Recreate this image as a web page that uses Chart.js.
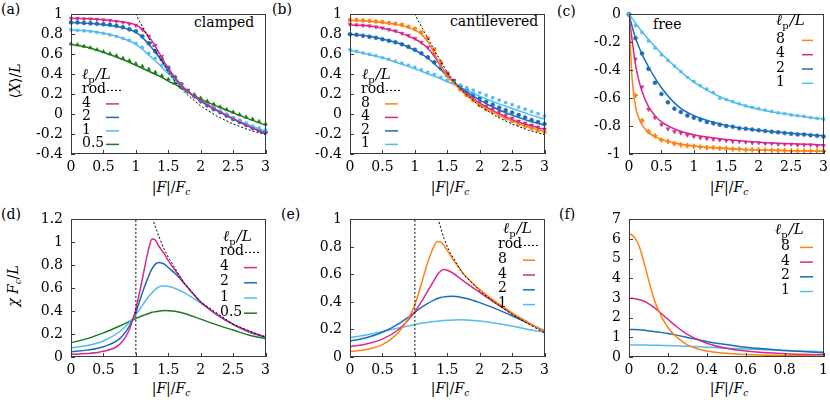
<!DOCTYPE html>
<html>
<head>
<meta charset="utf-8">
<script src="https://cdn.jsdelivr.net/npm/chart.js@4/dist/chart.umd.min.js"></script>
<style>
body { margin: 0; width: 830px; height: 404px; position: relative; background: #fff; overflow: hidden;
       font-family: "DejaVu Serif", "Liberation Serif", serif; }
canvas { position: absolute; }
.t { position: absolute; font-size: 14px; line-height: 1; white-space: nowrap; color: #000; }
.rot { transform: translate(-50%, -50%) rotate(-90deg); }
.ctr { transform: translateX(-50%); }
sub { font-size: 9px; vertical-align: -3px; }
</style>
</head>
<body>
<div class="t" style="left:1px;top:2px">(a)</div>
<div class="t" style="left:272px;top:2px">(b)</div>
<div class="t" style="left:557px;top:4px">(c)</div>
<div class="t" style="left:1px;top:207px">(d)</div>
<div class="t" style="left:281px;top:207px">(e)</div>
<div class="t" style="left:559px;top:207px">(f)</div>
<div class="t" style="left:194px;top:15px">clamped</div>
<div class="t" style="left:450px;top:14px">cantilevered</div>
<div class="t" style="left:653px;top:17px">free</div>
<div class="t rot" style="left:15px;top:81px">⟨<i>X</i>⟩/<i>L</i></div>
<div class="t rot" style="left:14px;top:286px"><i>χ F</i><sub><i>c</i></sub>/<i>L</i></div>
<div class="t ctr" style="left:171px;top:180px">|<i>F</i>|/<i>F</i><sub><i>c</i></sub></div>
<div class="t ctr" style="left:450px;top:180px">|<i>F</i>|/<i>F</i><sub><i>c</i></sub></div>
<div class="t ctr" style="left:729px;top:180px">|<i>F</i>|/<i>F</i><sub><i>c</i></sub></div>
<div class="t ctr" style="left:171px;top:381px">|<i>F</i>|/<i>F</i><sub><i>c</i></sub></div>
<div class="t ctr" style="left:450px;top:381px">|<i>F</i>|/<i>F</i><sub><i>c</i></sub></div>
<div class="t ctr" style="left:729px;top:381px">|<i>F</i>|/<i>F</i><sub><i>c</i></sub></div>
<script>
// couleurs des séries
const MAGENTA = '#d5298c', BLUE = '#1c6cbd', LIGHT = '#52bdec', GREEN = '#1d7a1d', ORANGE = '#ff8210';

// grilles des courbes théoriques
const gridAB = [0, 0.25, 0.5, 0.75, 1, 1.1, 1.2, 1.3, 1.4, 1.5, 1.6, 1.75, 2, 2.25, 2.5, 2.75, 3];
const gridC = [0, 0.025, 0.05, 0.1, 0.15, 0.2, 0.3, 0.4, 0.5, 0.75, 1, 1.5, 2, 2.5, 3];
const gridD = [0, 0.25, 0.5, 0.75, 0.9, 1, 1.1, 1.2, 1.25, 1.3, 1.35, 1.4, 1.45, 1.5, 1.6, 1.75, 2, 2.25, 2.5, 2.75, 3];
const gridE = [0, 0.25, 0.5, 0.75, 0.9, 1, 1.1, 1.2, 1.3, 1.35, 1.4, 1.45, 1.5, 1.6, 1.7, 1.8, 2, 2.25, 2.5, 2.75, 3];
const gridF = [0, 0.025, 0.05, 0.075, 0.1, 0.125, 0.15, 0.2, 0.25, 0.3, 0.4, 0.5, 0.6, 0.8, 1];
// abscisses des points de simulation
const markX = [0, 0.1, 0.2, 0.3, 0.4, 0.5, 0.6, 0.7, 0.8, 0.9, 1, 1.1, 1.2, 1.3, 1.4, 1.5, 1.6, 1.7, 1.8, 1.9,
               2, 2.1, 2.2, 2.3, 2.4, 2.5, 2.6, 2.7, 2.8, 2.9, 3];

// tige rigide (rod)
const rodX_AB = [0, 1, 1.05, 1.1, 1.15, 1.2, 1.25, 1.3, 1.4, 1.5, 1.6, 1.75, 2, 2.25, 2.5, 2.75, 3];
const rodY_AB = [1, 1, 0.94, 0.88, 0.82, 0.76, 0.7, 0.64, 0.53, 0.42, 0.33, 0.22, 0.08, -0.02, -0.1, -0.16, -0.205];
const rodX_D = [0, 1, 1, 1.26, 1.35, 1.42, 1.5, 1.75, 2, 2.5, 3];
const rodY_D = [0, 0, 1.6, 1.2, 1.06, 0.96, 0.87, 0.64, 0.48, 0.285, 0.17];
const rodX_E = [0, 1, 1, 1.36, 1.45, 1.54, 1.75, 2, 2.25, 2.5, 2.75, 3];
const rodY_E = [0, 0, 1.4, 1.0, 0.86, 0.76, 0.6, 0.48, 0.39, 0.31, 0.24, 0.175];

// (a) clamped : courbes
const aLine4 = [0.96, 0.957, 0.947, 0.928, 0.895, 0.85, 0.78, 0.68, 0.565, 0.46, 0.37, 0.26, 0.135, 0.04, -0.045, -0.125, -0.2];
const aLine2 = [0.918, 0.91, 0.898, 0.873, 0.82, 0.77, 0.70, 0.62, 0.535, 0.445, 0.36, 0.255, 0.13, 0.035, -0.05, -0.125, -0.19];
const aLine1 = [0.842, 0.835, 0.81, 0.77, 0.70, 0.65, 0.59, 0.535, 0.47, 0.41, 0.34, 0.25, 0.135, 0.04, -0.045, -0.11, -0.17];
const aLine05 = [0.70, 0.67, 0.62, 0.56, 0.49, 0.46, 0.43, 0.40, 0.37, 0.33, 0.30, 0.24, 0.15, 0.08, 0.012, -0.05, -0.11];
// (a) points
const aMark4 = [0.96, 0.96, 0.955, 0.955, 0.95, 0.945, 0.94, 0.93, 0.92, 0.905, 0.89, 0.85, 0.78, 0.69, 0.58, 0.47,
                0.37, 0.3, 0.24, 0.18, 0.13, 0.09, 0.06, 0.02, -0.01, -0.04, -0.07, -0.1, -0.13, -0.16, -0.19];
const aMark2 = [0.92, 0.92, 0.915, 0.91, 0.905, 0.9, 0.895, 0.885, 0.87, 0.85, 0.83, 0.78, 0.71, 0.63, 0.55, 0.46,
                0.37, 0.3, 0.23, 0.18, 0.13, 0.09, 0.05, 0.02, -0.015, -0.05, -0.08, -0.11, -0.14, -0.16, -0.18];
const aMark1 = [0.845, 0.84, 0.835, 0.83, 0.82, 0.81, 0.795, 0.78, 0.76, 0.74, 0.71, 0.67, 0.61, 0.56, 0.49, 0.42,
                0.35, 0.29, 0.23, 0.18, 0.135, 0.1, 0.065, 0.03, 0.0, -0.035, -0.06, -0.09, -0.12, -0.14, -0.16];
const aMark05 = [0.705, 0.695, 0.68, 0.665, 0.645, 0.625, 0.605, 0.585, 0.56, 0.535, 0.505, 0.48, 0.45, 0.42, 0.385, 0.35,
                 0.31, 0.27, 0.23, 0.195, 0.16, 0.13, 0.1, 0.072, 0.045, 0.02, -0.005, -0.03, -0.05, -0.075, -0.1];

// (b) cantilevered
const bLine8 = [0.94, 0.934, 0.918, 0.895, 0.842, 0.80, 0.725, 0.61, 0.48, 0.38, 0.31, 0.215, 0.095, 0.005, -0.07, -0.13, -0.175];
const bLine4 = [0.895, 0.885, 0.862, 0.82, 0.753, 0.715, 0.66, 0.58, 0.48, 0.395, 0.315, 0.23, 0.11, 0.02, -0.055, -0.11, -0.155];
const bLine2 = [0.80, 0.785, 0.753, 0.71, 0.64, 0.605, 0.56, 0.505, 0.445, 0.38, 0.32, 0.245, 0.14, 0.056, -0.01, -0.066, -0.11];
const bLine1 = [0.64, 0.605, 0.565, 0.51, 0.455, 0.43, 0.405, 0.38, 0.355, 0.325, 0.3, 0.255, 0.18, 0.115, 0.056, 0.0, -0.05];
const bMark8 = [0.945, 0.945, 0.94, 0.935, 0.93, 0.925, 0.915, 0.905, 0.895, 0.875, 0.855, 0.82, 0.76, 0.65, 0.52, 0.41,
                0.32, 0.25, 0.19, 0.14, 0.09, 0.05, 0.02, -0.01, -0.04, -0.07, -0.1, -0.12, -0.14, -0.16, -0.18];
const bMark4 = [0.9, 0.895, 0.89, 0.885, 0.875, 0.865, 0.85, 0.835, 0.81, 0.79, 0.76, 0.72, 0.67, 0.6, 0.5, 0.41,
                0.34, 0.27, 0.21, 0.17, 0.12, 0.08, 0.05, 0.02, -0.01, -0.04, -0.07, -0.09, -0.11, -0.13, -0.15];
const bMark2 = [0.8, 0.795, 0.785, 0.775, 0.765, 0.75, 0.735, 0.72, 0.7, 0.675, 0.645, 0.61, 0.57, 0.52, 0.46, 0.39,
                0.33, 0.28, 0.24, 0.2, 0.16, 0.125, 0.095, 0.065, 0.04, 0.015, -0.01, -0.035, -0.06, -0.08, -0.1];
const bMark1 = [0.645, 0.63, 0.615, 0.6, 0.585, 0.565, 0.55, 0.53, 0.51, 0.49, 0.47, 0.445, 0.42, 0.4, 0.37, 0.34,
                0.32, 0.29, 0.265, 0.24, 0.215, 0.19, 0.165, 0.14, 0.115, 0.095, 0.07, 0.05, 0.025, 0.005, -0.02];

// (c) free
const cLine8 = [0, -0.27, -0.47, -0.66, -0.74, -0.79, -0.845, -0.875, -0.895, -0.925, -0.942, -0.96, -0.97, -0.976, -0.98];
const cLine4 = [0, -0.1, -0.19, -0.36, -0.47, -0.55, -0.66, -0.725, -0.77, -0.83, -0.862, -0.896, -0.915, -0.927, -0.935];
const cLine2 = [0, -0.045, -0.09, -0.17, -0.23, -0.285, -0.375, -0.455, -0.525, -0.655, -0.725, -0.795, -0.83, -0.852, -0.87];
const cLine1 = [0, -0.015, -0.03, -0.062, -0.093, -0.122, -0.178, -0.23, -0.28, -0.39, -0.485, -0.61, -0.68, -0.72, -0.75];
const cMark8 = [0, -0.58, -0.76, -0.84, -0.87, -0.9, -0.91, -0.925, -0.935, -0.94, -0.945, -0.95, -0.955, -0.955, -0.96, -0.96,
                -0.965, -0.965, -0.97, -0.97, -0.97, -0.972, -0.974, -0.975, -0.976, -0.977, -0.978, -0.978, -0.979, -0.98, -0.98];
const cMark4 = [0, -0.32, -0.52, -0.68, -0.74, -0.79, -0.82, -0.84, -0.85, -0.865, -0.875, -0.885, -0.89, -0.895, -0.9, -0.905,
                -0.91, -0.91, -0.915, -0.92, -0.92, -0.925, -0.925, -0.93, -0.93, -0.93, -0.935, -0.935, -0.935, -0.94, -0.94];
const cMark2 = [0, -0.17, -0.28, -0.39, -0.49, -0.57, -0.63, -0.675, -0.7, -0.725, -0.74, -0.755, -0.77, -0.78, -0.79, -0.8,
                -0.805, -0.815, -0.82, -0.825, -0.83, -0.835, -0.84, -0.845, -0.85, -0.855, -0.86, -0.86, -0.865, -0.87, -0.875];
const cMark1 = [0, -0.08, -0.13, -0.19, -0.24, -0.29, -0.33, -0.37, -0.41, -0.45, -0.48, -0.51, -0.535, -0.56, -0.6, -0.61,
                -0.625, -0.64, -0.655, -0.665, -0.675, -0.685, -0.695, -0.705, -0.71, -0.72, -0.725, -0.73, -0.74, -0.745, -0.75];

// (d) susceptibilité, clamped
const dChi4 = [0.023, 0.03, 0.05, 0.11, 0.24, 0.42, 0.68, 0.95, 1.03, 1.02, 0.97, 0.93, 0.89, 0.84, 0.76, 0.64, 0.48, 0.37, 0.285, 0.22, 0.175];
const dChi2 = [0.045, 0.06, 0.09, 0.16, 0.27, 0.39, 0.56, 0.71, 0.77, 0.81, 0.825, 0.82, 0.805, 0.78, 0.73, 0.64, 0.48, 0.37, 0.285, 0.22, 0.175];
const dChi1 = [0.08, 0.1, 0.14, 0.22, 0.3, 0.37, 0.45, 0.53, 0.56, 0.59, 0.61, 0.62, 0.62, 0.615, 0.6, 0.56, 0.47, 0.37, 0.285, 0.215, 0.17];
const dChi05 = [0.125, 0.16, 0.21, 0.27, 0.31, 0.335, 0.36, 0.38, 0.39, 0.395, 0.4, 0.403, 0.405, 0.404, 0.398, 0.38, 0.33, 0.28, 0.235, 0.19, 0.16];

// (e) susceptibilité, cantilevered
const eChi8 = [0.04, 0.055, 0.09, 0.18, 0.28, 0.38, 0.53, 0.69, 0.81, 0.84, 0.835, 0.81, 0.775, 0.7, 0.635, 0.58, 0.49, 0.4, 0.32, 0.25, 0.185];
const eChi4 = [0.075, 0.095, 0.13, 0.2, 0.27, 0.33, 0.4, 0.48, 0.56, 0.6, 0.625, 0.635, 0.63, 0.605, 0.57, 0.535, 0.47, 0.39, 0.315, 0.25, 0.185];
const eChi2 = [0.115, 0.14, 0.18, 0.24, 0.29, 0.325, 0.36, 0.39, 0.415, 0.425, 0.432, 0.437, 0.44, 0.442, 0.435, 0.425, 0.395, 0.35, 0.3, 0.245, 0.19];
const eChi1 = [0.14, 0.16, 0.185, 0.21, 0.225, 0.235, 0.245, 0.252, 0.258, 0.26, 0.263, 0.265, 0.267, 0.269, 0.27, 0.269, 0.262, 0.245, 0.225, 0.2, 0.18];

// (f) susceptibilité, free
const fChi8 = [6.3, 6.12, 5.7, 4.88, 3.95, 3.05, 2.4, 1.5, 0.97, 0.62, 0.3, 0.19, 0.13, 0.08, 0.05];
const fChi4 = [3.0, 2.98, 2.93, 2.85, 2.72, 2.55, 2.35, 1.92, 1.5, 1.15, 0.7, 0.44, 0.3, 0.165, 0.11];
const fChi2 = [1.4, 1.4, 1.39, 1.37, 1.33, 1.3, 1.27, 1.19, 1.1, 0.99, 0.79, 0.63, 0.49, 0.33, 0.22];
const fChi1 = [0.61, 0.61, 0.61, 0.61, 0.6, 0.6, 0.6, 0.58, 0.57, 0.55, 0.5, 0.45, 0.41, 0.33, 0.27];

const SERIF = '"DejaVu Serif", "Liberation Serif", serif';

function pts(xs, ys) {
    return xs.map((x, i) => ({ x: x, y: ys[i] }));
}

// courbe continue
function curve(xs, ys, color, label) {
    return { data: pts(xs, ys), borderColor: color, borderWidth: 1.5, pointRadius: 0,
             cubicInterpolationMode: 'monotone', fill: false, key: label };
}

// tige rigide en pointillés
function rod(xs, ys) {
    return { data: pts(xs, ys), borderColor: '#000', borderWidth: 1, borderDash: [2, 2],
             pointRadius: 0, tension: 0, fill: false, key: 'rod' };
}

// points de simulation
function marks(ys, color, style, rot) {
    let r = 2;
    if (style === 'triangle') r = 2.3;
    if (style === 'rect') r = 1.9;
    if (style === 'cross') r = 2.6;
    return { data: pts(markX, ys), showLine: false, pointStyle: style, pointRotation: rot || 0,
             pointRadius: r, pointBorderWidth: style === 'cross' ? 1.8 : 0.5,
             backgroundColor: color, borderColor: color, clip: 5 };
}

// cadre + graduations vers l'intérieur (style gnuplot)
const framePlugin = {
    id: 'frame',
    afterDatasetsDraw(chart) {
        const { ctx, chartArea: a, scales } = chart;
        ctx.save();
        ctx.strokeStyle = '#3a3a3a';
        ctx.lineWidth = 1;
        ctx.beginPath();
        scales.x.ticks.forEach(t => {
            const px = Math.round(scales.x.getPixelForValue(t.value)) + 0.5;
            ctx.moveTo(px, a.bottom); ctx.lineTo(px, a.bottom - 4);
        });
        scales.y.ticks.forEach(t => {
            const py = Math.round(scales.y.getPixelForValue(t.value)) + 0.5;
            ctx.moveTo(a.left, py); ctx.lineTo(a.left + 4, py);
        });
        ctx.stroke();
        ctx.strokeRect(Math.round(a.left) + 0.5, Math.round(a.top) + 0.5,
                       Math.round(a.right - a.left) - 1, Math.round(a.bottom - a.top) - 1);
        ctx.restore();
    }
};

// légende l_p/L dessinée dans le graphe
const keyPlugin = {
    id: 'lpKey',
    afterDraw(chart, args, o) {
        const { ctx, chartArea: a } = chart;
        const x0 = a.left + o.x, y0 = a.top + o.y;
        ctx.save();
        ctx.fillStyle = '#000';
        ctx.textBaseline = 'middle';
        ctx.textAlign = 'left';
        ctx.font = 'italic 15px ' + SERIF;
        ctx.fillText('ℓ', x0, y0);
        let w = ctx.measureText('ℓ').width;
        ctx.font = '10px ' + SERIF;
        ctx.fillText('p', x0 + w, y0 + 5);
        w += ctx.measureText('p').width + 1;
        ctx.font = 'italic 15px ' + SERIF;
        ctx.fillText('/L', x0 + w, y0);
        let i = 0;
        chart.data.datasets.forEach(ds => {
            if (!ds.key) return;
            const y = a.top + o.first + i * o.dy;
            ctx.font = '14px ' + SERIF;
            ctx.fillText(ds.key, a.left + o.tx, y);
            ctx.beginPath();
            ctx.strokeStyle = ds.borderColor;
            ctx.lineWidth = ds.borderWidth;
            ctx.setLineDash(ds.borderDash || []);
            const ext = ds.borderDash ? 3 : 0;
            ctx.moveTo(a.left + o.s0 - ext, y + 1);
            ctx.lineTo(a.left + o.s1 + ext, y + 1);
            ctx.stroke();
            ctx.setLineDash([]);
            i++;
        });
        ctx.restore();
    }
};

function fmt(v) {
    return Math.abs(v) < 1e-9 ? '0' : String(parseFloat(v.toFixed(2)));
}

function panel(left, top, w, h, xr, yr, sets, key) {
    const padL = 64, padT = 12, padR = 6, padB = 30;
    const cv = document.createElement('canvas');
    cv.width = w + padL + padR;
    cv.height = h + padT + padB;
    cv.style.left = (left - padL) + 'px';
    cv.style.top = (top - padT) + 'px';
    document.body.appendChild(cv);
    const tickFont = { family: SERIF, size: 14 };
    new Chart(cv, {
        type: 'line',
        data: { datasets: sets },
        options: {
            responsive: false,
            animation: false,
            devicePixelRatio: 1,
            layout: { padding: { top: padT, right: padR, left: 0, bottom: 0 } },
            plugins: { legend: { display: false }, tooltip: { enabled: false }, lpKey: key },
            scales: {
                x: {
                    type: 'linear', min: xr[0], max: xr[1],
                    ticks: { stepSize: xr[2], callback: fmt, font: tickFont, color: '#000', padding: 5,
                             autoSkip: false, maxRotation: 0 },
                    grid: { display: false, drawTicks: false },
                    border: { display: false },
                    afterFit: s => { s.height = padB; }
                },
                y: {
                    type: 'linear', min: yr[0], max: yr[1],
                    ticks: { stepSize: yr[2], callback: fmt, font: tickFont, color: '#000', padding: 8,
                             autoSkip: false },
                    grid: { display: false, drawTicks: false },
                    border: { display: false },
                    afterFit: s => { s.width = padL; }
                }
            }
        },
        plugins: [framePlugin, keyPlugin]
    });
}

// (a)
panel(71, 10, 198, 144, [0, 3, 0.5], [-0.4, 1, 0.2], [
    rod(rodX_AB, rodY_AB),
    curve(gridAB, aLine4, MAGENTA, '4'),
    curve(gridAB, aLine2, BLUE, '2'),
    curve(gridAB, aLine1, LIGHT, '1'),
    curve(gridAB, aLine05, GREEN, '0.5'),
    marks(aMark05, GREEN, 'triangle'),
    marks(aMark1, LIGHT, 'rect'),
    marks(aMark2, BLUE, 'circle'),
    marks(aMark4, MAGENTA, 'triangle', 180)
], { x: 11, y: 61, tx: 11, first: 75, dy: 13.5, s0: 35, s1: 48 });

// (b)
panel(350, 10, 198, 144, [0, 3, 0.5], [-0.4, 1, 0.2], [
    rod(rodX_AB, rodY_AB),
    curve(gridAB, bLine8, ORANGE, '8'),
    curve(gridAB, bLine4, MAGENTA, '4'),
    curve(gridAB, bLine2, BLUE, '2'),
    curve(gridAB, bLine1, LIGHT, '1'),
    marks(bMark1, LIGHT, 'rect'),
    marks(bMark2, BLUE, 'circle'),
    marks(bMark4, MAGENTA, 'triangle', 180),
    marks(bMark8, ORANGE, 'circle')
], { x: 12, y: 61, tx: 11, first: 75, dy: 13.5, s0: 35, s1: 48 });

// (c)
panel(629, 10, 198, 144, [0, 3, 0.5], [-1, 0, 0.2], [
    curve(gridC, cLine8, ORANGE, '8'),
    curve(gridC, cLine4, MAGENTA, '4'),
    curve(gridC, cLine2, BLUE, '2'),
    curve(gridC, cLine1, LIGHT, '1'),
    marks(cMark1, LIGHT, 'rect'),
    marks(cMark2, BLUE, 'circle'),
    marks(cMark4, MAGENTA, 'triangle', 180),
    marks(cMark8, ORANGE, 'cross')
], { x: 147, y: 7, tx: 147, first: 25, dy: 14.3, s0: 173, s1: 184 });

// (d)
panel(71, 215, 198, 142, [0, 3, 0.5], [0, 1.2, 0.2], [
    rod(rodX_D, rodY_D),
    curve(gridD, dChi4, MAGENTA, '4'),
    curve(gridD, dChi2, BLUE, '2'),
    curve(gridD, dChi1, LIGHT, '1'),
    curve(gridD, dChi05, GREEN, '0.5')
], { x: 152, y: 18, tx: 149, first: 32, dy: 15.2, s0: 173, s1: 186 });

// (e)
panel(350, 215, 198, 142, [0, 3, 0.5], [0, 1, 0.2], [
    rod(rodX_E, rodY_E),
    curve(gridE, eChi8, ORANGE, '8'),
    curve(gridE, eChi4, MAGENTA, '4'),
    curve(gridE, eChi2, BLUE, '2'),
    curve(gridE, eChi1, LIGHT, '1')
], { x: 153, y: 10, tx: 148, first: 25, dy: 14.8, s0: 173, s1: 185 });

// (f)
panel(629, 215, 198, 142, [0, 1, 0.2], [0, 7, 1], [
    curve(gridF, fChi8, ORANGE, '8'),
    curve(gridF, fChi4, MAGENTA, '4'),
    curve(gridF, fChi2, BLUE, '2'),
    curve(gridF, fChi1, LIGHT, '1')
], { x: 146, y: 11, tx: 152, first: 27, dy: 14.7, s0: 171, s1: 184 });
</script>
</body>
</html>
